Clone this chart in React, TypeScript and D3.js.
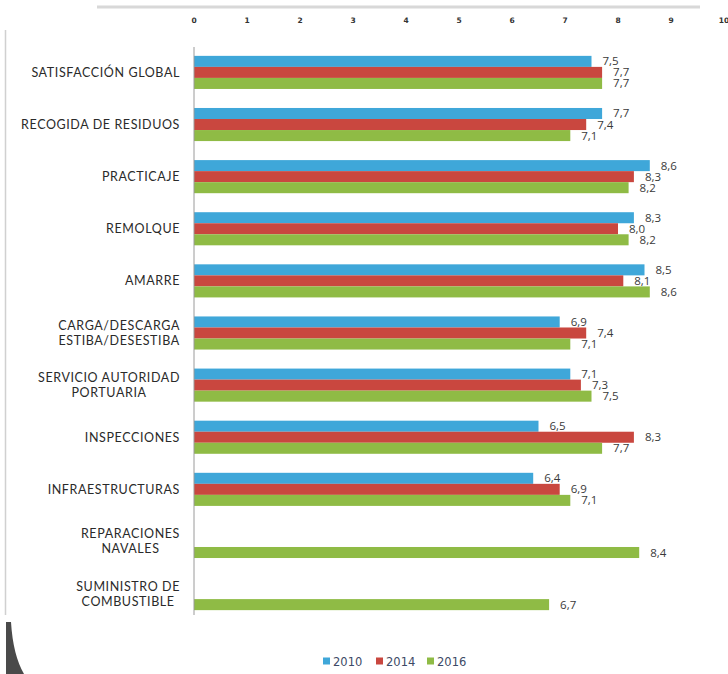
import React, { useEffect, useRef } from "react";
import * as d3 from "d3";

const categories: string[][] = [
  ["SATISFACCIÓN GLOBAL"],
  ["RECOGIDA DE RESIDUOS"],
  ["PRACTICAJE"],
  ["REMOLQUE"],
  ["AMARRE"],
  ["CARGA/DESCARGA", "ESTIBA/DESESTIBA"],
  ["SERVICIO AUTORIDAD", "PORTUARIA"],
  ["INSPECCIONES"],
  ["INFRAESTRUCTURAS"],
  ["REPARACIONES", "NAVALES"],
  ["SUMINISTRO DE", "COMBUSTIBLE"],
];
const series = ["2010", "2014", "2016"];
const values2010: (number | null)[] = [7.5, 7.7, 8.6, 8.3, 8.5, 6.9, 7.1, 6.5, 6.4, null, null];
const values2014: (number | null)[] = [7.7, 7.4, 8.3, 8.0, 8.1, 7.4, 7.3, 8.3, 6.9, null, null];
const values2016: (number | null)[] = [7.7, 7.1, 8.2, 8.2, 8.6, 7.1, 7.5, 7.7, 7.1, 8.4, 6.7];
const tickValues = [0, 1, 2, 3, 4, 5, 6, 7, 8, 9, 10];
const colors = ["#3fa7d9", "#c9473f", "#8fbb45"];

export default function App() {
  const ref = useRef<SVGSVGElement>(null);

  useEffect(() => {
    const svg = d3.select(ref.current);
    svg.selectAll("*").remove();

    const W = 728, H = 674;
    const x = d3.scaleLinear().domain([0, 10]).range([194, 724]);
    const keys = categories.map((c) => c.join(" "));
    const y = d3.scaleBand().domain(keys).range([47, 619]).paddingInner(0.365).paddingOuter(0.17);
    const ySub = d3.scaleBand().domain(series).range([0, y.bandwidth()]);
    const data = [values2010, values2014, values2016];

    svg.append("rect").attr("width", W).attr("height", H).attr("fill", "#fff");

    // frame decorations
    svg.append("line").attr("x1", 97).attr("x2", 700).attr("y1", 7).attr("y2", 7)
      .attr("stroke", "#d8d8d8").attr("stroke-width", 3);
    svg.append("line").attr("x1", 5.5).attr("x2", 5.5).attr("y1", 30).attr("y2", 615)
      .attr("stroke", "#d0d0d0").attr("stroke-width", 1.5);
    svg.append("path").attr("d", "M6,622 L11,622 Q13,655 24,674 L6,674 Z").attr("fill", "#4a4a4a");

    // tick labels (top)
    svg.append("g").selectAll("text").data(tickValues).join("text")
      .attr("x", (d) => x(d)).attr("y", 23)
      .attr("text-anchor", "middle")
      .attr("font-family", "DejaVu Sans, sans-serif").attr("font-size", 7.5)
      .attr("font-weight", "bold")
      .attr("fill", "#333").text((d) => String(d));

    // bars
    const g = svg.append("g");
    data.forEach((vals, si) => {
      vals.forEach((v, ci) => {
        if (v == null) return;
        const yy = (y(keys[ci]) as number) + (ySub(series[si]) as number);
        g.append("rect").attr("x", x(0)).attr("y", yy)
          .attr("width", x(v) - x(0)).attr("height", ySub.bandwidth())
          .attr("fill", colors[si]);
        g.append("text").attr("x", x(v) + 11).attr("y", yy + ySub.bandwidth() / 2 + 4)
          .attr("font-family", "Open Sans, sans-serif").attr("font-size", 11.5)
          .attr("fill", "#3a3a3a")
          .text(d3.format(".1f")(v).replace(".", ","));
      });
    });

    // axis line
    svg.append("line").attr("x1", x(0)).attr("x2", x(0)).attr("y1", 47).attr("y2", 615)
      .attr("stroke", "#9a9a9a").attr("stroke-width", 1);

    // category labels
    const labelRight = 180;
    categories.forEach((lines, ci) => {
      const cy = (y(keys[ci]) as number) + y.bandwidth() / 2;
      const t = svg.append("text")
        .attr("font-family", "Lato, sans-serif").attr("font-size", 12.5)
        .attr("letter-spacing", 0.6)
        .attr("fill", "#2a2a2a").attr("text-anchor", "middle");
      const lh = 15;
      const off = -((lines.length - 1) * lh) / 2;
      lines.forEach((ln, li) => {
        t.append("tspan").attr("x", 0).attr("y", cy + off + li * lh + 4.5).text(ln);
      });
      const node = t.node() as SVGTextElement;
      const w = node.getBBox().width;
      t.attr("transform", `translate(${labelRight - w / 2},0)`);
    });

    // legend
    const lg = svg.append("g").attr("transform", "translate(323,662)");
    const lx = [0, 53, 104];
    series.forEach((s, i) => {
      lg.append("rect").attr("x", lx[i]).attr("y", -4.5).attr("width", 7).attr("height", 7).attr("fill", colors[i]);
      lg.append("text").attr("x", lx[i] + 10).attr("y", 3.5)
        .attr("font-family", "DejaVu Sans, sans-serif").attr("font-size", 11.5)
        .attr("fill", "#3d4a66").text(s);
    });
  }, []);

  return (
    <svg ref={ref} width={728} height={674} style={{ position: "absolute", left: 0, top: 0 }} />
  );
}
